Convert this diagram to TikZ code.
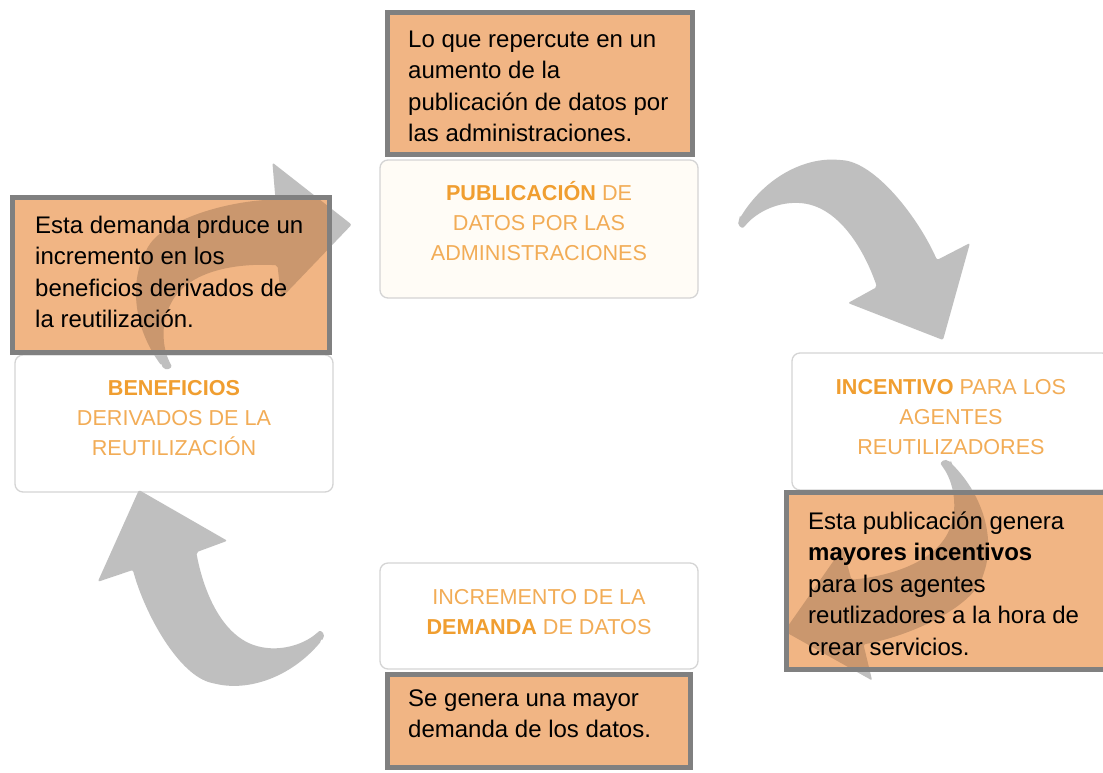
\documentclass[tikz,border=0pt]{standalone}
\usepackage{fontspec}
\setmainfont{Liberation Sans}
\definecolor{oboxfill}{RGB}{241,181,132}
\definecolor{oboxline}{RGB}{128,128,128}
\definecolor{arrowgrey}{RGB}{191,191,191}
\definecolor{arrowin}{RGB}{214,214,214}
\definecolor{wboxline}{RGB}{212,212,212}
\definecolor{ortext}{RGB}{242,172,86}
\definecolor{ortextb}{RGB}{240,158,48}
\newcommand{\ob}[1]{{\bfseries\color{ortextb}#1}}
\tikzset{
  wbox/.style={draw=wboxline, line width=1.3pt, rounded corners=8pt, fill=white},
  wtext/.style={anchor=base, inner sep=0pt, align=center, text=ortext, font=\fontsize{21.6}{30}\selectfont},
  obox/.style={draw=none, fill=oboxfill, inner sep=0pt},
  oborder/.style={draw=oboxline, line width=5pt},
  otext/.style={anchor=base west, inner sep=0pt, align=left, text=black, font=\fontsize{24}{31.5}\selectfont},
  arrowfill/.style={fill=arrowgrey},
  curvedarrow/.pic={\fill[arrowfill, rounded corners=2pt] (0,-4) .. controls (25,-45) and (65,-65) .. (100,-62) .. controls (135,-60) and (178,-5) .. (197,38) -- (230,21) -- (203,118) -- (108,81) -- (137,65) .. controls (125,30) and (100,-15) .. (60,-19) .. controls (35,-20) and (15,-8) .. (5,4) .. controls (2,7) and (-4,3) .. (0,-4) -- cycle;}
}
\begin{document}
\begin{tikzpicture}[x=1pt, y=-1pt]
\useasboundingbox (0,0) rectangle (1103,772);
\fill[white] (0,0) rectangle (1103,772);
% white boxes
\node[wbox, fill={rgb,255:red,255;green,252;blue,246}, minimum width=318pt, minimum height=138pt] (pubbox) at (539,229) {};
\node[wbox, minimum width=318pt, minimum height=137pt] (benbox) at (174,423.5) {};
\node[wbox, minimum width=318pt, minimum height=137pt] (incbox) at (951,421.5) {};
\node[wbox, minimum width=318pt, minimum height=106pt] (dembox) at (539,616) {};
\node[wtext] (pubtxt) at (539,260) {\ob{PUBLICACIÓN} DE\\DATOS POR LAS\\ADMINISTRACIONES};
\node[wtext] (bentxt) at (174,455) {\ob{BENEFICIOS}\\DERIVADOS DE LA\\REUTILIZACIÓN};
\node[wtext] (inctxt) at (951,454) {\ob{INCENTIVO} PARA LOS\\AGENTES\\REUTILIZADORES};
\node[wtext] (demtxt) at (539,634) {INCREMENTO DE LA\\\ob{DEMANDA} DE DATOS};
% curved arrows
\coordinate (a1) at (165,367);
\coordinate (a2) at (740,222);
\coordinate (a3) at (947,462);
\coordinate (a4) at (322,637);
\pic[rotate=67.5] at (a1) {curvedarrow};
\pic at (a2) {curvedarrow};
\pic[rotate=-103.7] at (a3) {curvedarrow};
\pic[rotate=171.4] at (a4) {curvedarrow};
% orange boxes
\node[obox, minimum width=305pt, minimum height=142pt] (o1) at (540,83.5) {};
\node[obox, minimum width=317pt, minimum height=155pt] (o2) at (171,275) {};
\node[obox, minimum width=333.5pt, minimum height=177pt] (o3) at (953.25,581) {};
\node[obox, minimum width=303pt, minimum height=93pt] (o4) at (539,721) {};
% arrows showing through the orange boxes
\begin{scope}
  \clip (o2.north west) rectangle (o2.south east);
  \begin{scope}[blend mode=multiply, arrowfill/.style={fill=arrowin}]
    \pic[rotate=67.5] at (a1) {curvedarrow};
  \end{scope}
\end{scope}
\begin{scope}
  \clip (o3.north west) rectangle (o3.south east);
  \begin{scope}[blend mode=multiply, arrowfill/.style={fill=arrowin}]
    \pic[rotate=-103.7] at (a3) {curvedarrow};
  \end{scope}
\end{scope}
\draw[oborder] (o1.north west) rectangle (o1.south east);
\draw[oborder] (o2.north west) rectangle (o2.south east);
\draw[oborder] (o3.north west) rectangle (o3.south east);
\draw[oborder] (o4.north west) rectangle (o4.south east);
\node[otext] (o1t) at (408,141.5) {Lo que repercute en un\\aumento de la\\publicación de datos por\\las administraciones.};
\node[otext] (o2t) at (35,327.5) {Esta demanda prduce un\\incremento en los\\beneficios derivados de\\la reutilización.};
\node[otext] (o3t) at (808,655) {Esta publicación genera\\\textbf{mayores incentivos}\\para los agentes\\reutlizadores a la hora de\\crear servicios.};
\node[otext] (o4t) at (408,737.5) {Se genera una mayor\\demanda de los datos.};
\end{tikzpicture}
\end{document}
